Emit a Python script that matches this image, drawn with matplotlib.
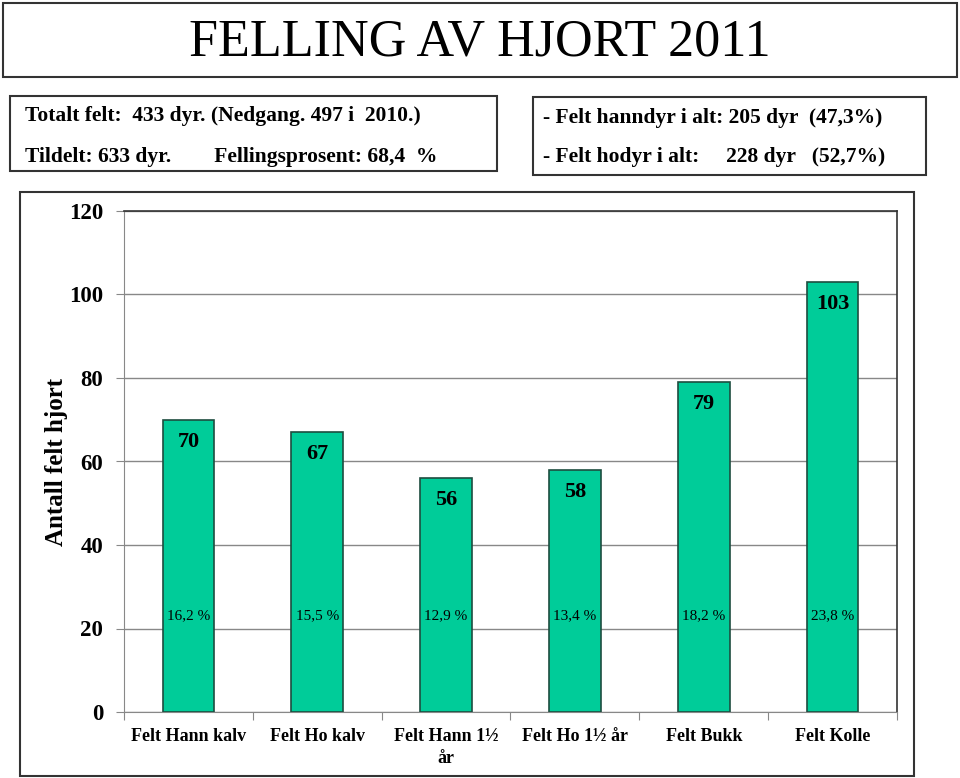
import matplotlib
matplotlib.use("Agg")
import matplotlib.pyplot as plt
from matplotlib.patches import Rectangle

categories = ["Felt Hann kalv", "Felt Ho kalv", "Felt Hann 1½\når", "Felt Ho 1½ år", "Felt Bukk", "Felt Kolle"]
values = [70, 67, 56, 58, 79, 103]
percent_labels = ["16,2 %", "15,5 %", "12,9 %", "13,4 %", "18,2 %", "23,8 %"]
y_ticks = [0, 20, 40, 60, 80, 100, 120]

title_text = "FELLING AV HJORT 2011"
left_lines = ["Totalt felt:  433 dyr. (Nedgang. 497 i  2010.)",
              "Tildelt: 633 dyr.        Fellingsprosent: 68,4  %"]
right_lines = ["- Felt hanndyr i alt: 205 dyr  (47,3%)",
               "- Felt hodyr i alt:     228 dyr   (52,7%)"]
y_label = "Antall felt hjort"

W, H = 960, 778
SERIF = "Liberation Serif"
BAR = "#00CC99"
EDGE = "#1E4D3F"

fig = plt.figure(figsize=(W / 100, H / 100), dpi=100)
fig.patch.set_facecolor("white")

def fx(x):
    return x / W

def fy(y):
    return 1 - y / H

def box(x0, y0, x1, y1, lw=1.5):
    fig.patches.append(Rectangle((fx(x0), fy(y1)), fx(x1) - fx(x0), fy(y0) - fy(y1),
                                 transform=fig.transFigure, fill=False,
                                 edgecolor="#333333", linewidth=lw))

# Title box
box(3, 3, 957, 77)
fig.text(fx(480), fy(43), title_text, fontsize=37.5, family=SERIF,
         ha="center", va="center", color="black")

# Left info box
box(10, 96, 497, 171)
fig.text(fx(25), fy(116), left_lines[0], fontsize=15.5, family=SERIF, weight="bold",
         ha="left", va="center")
fig.text(fx(25), fy(157), left_lines[1], fontsize=15.5, family=SERIF, weight="bold",
         ha="left", va="center")

# Right info box
box(533, 97, 926, 175)
fig.text(fx(543), fy(118), right_lines[0], fontsize=15.5, family=SERIF, weight="bold",
         ha="left", va="center")
fig.text(fx(543), fy(157), right_lines[1], fontsize=15.5, family=SERIF, weight="bold",
         ha="left", va="center")

# Chart box
box(20, 192, 914, 776)

# Axes
ax_l, ax_r, ax_t, ax_b = 124, 897, 211, 712
ax = fig.add_axes([fx(ax_l), fy(ax_b), fx(ax_r) - fx(ax_l), fy(ax_t) - fy(ax_b)])
n = len(categories)
xs = list(range(n))
ax.bar(xs, values, width=0.4, color=BAR, edgecolor=EDGE, linewidth=1.2, zorder=3)
ax.set_xlim(-0.5, n - 0.5)
ax.set_ylim(0, 120)
ax.set_yticks(y_ticks)
ax.set_yticklabels([str(t) for t in y_ticks], fontsize=16.5, family=SERIF, weight="bold")
ax.yaxis.grid(True, color="#888888", linewidth=1, zorder=0)
ax.set_axisbelow(True)
ax.tick_params(axis="y", length=6, color="#888888", pad=9)

# x ticks at category boundaries, labels at centers
ax.set_xticks([i - 0.5 for i in range(n + 1)])
ax.set_xticklabels([""] * (n + 1))
ax.tick_params(axis="x", length=6, color="#888888")
for i, c in enumerate(categories):
    ax.text(i, -3.8, c, transform=ax.transData, ha="center", va="top",
            fontsize=13, family=SERIF, weight="bold", linespacing=1.4)

for s in ["left", "bottom"]:
    ax.spines[s].set_color("#888888")
for s in ["top", "right"]:
    ax.spines[s].set_color("#333333")
    ax.spines[s].set_linewidth(1.2)

# value labels inside bars near the top
for i, v in enumerate(values):
    ax.text(i, v - 5.3, str(v), ha="center", va="center", fontsize=16,
            family=SERIF, weight="bold", zorder=4)
# percent labels
for i, p in enumerate(percent_labels):
    ax.text(i, 23.0, p, ha="center", va="center", fontsize=11,
            family=SERIF, zorder=4)

fig.text(fx(57), fy(462), y_label, rotation=90, fontsize=18, family=SERIF,
         weight="bold", ha="center", va="center")

fig.savefig("out.png", dpi=100)
